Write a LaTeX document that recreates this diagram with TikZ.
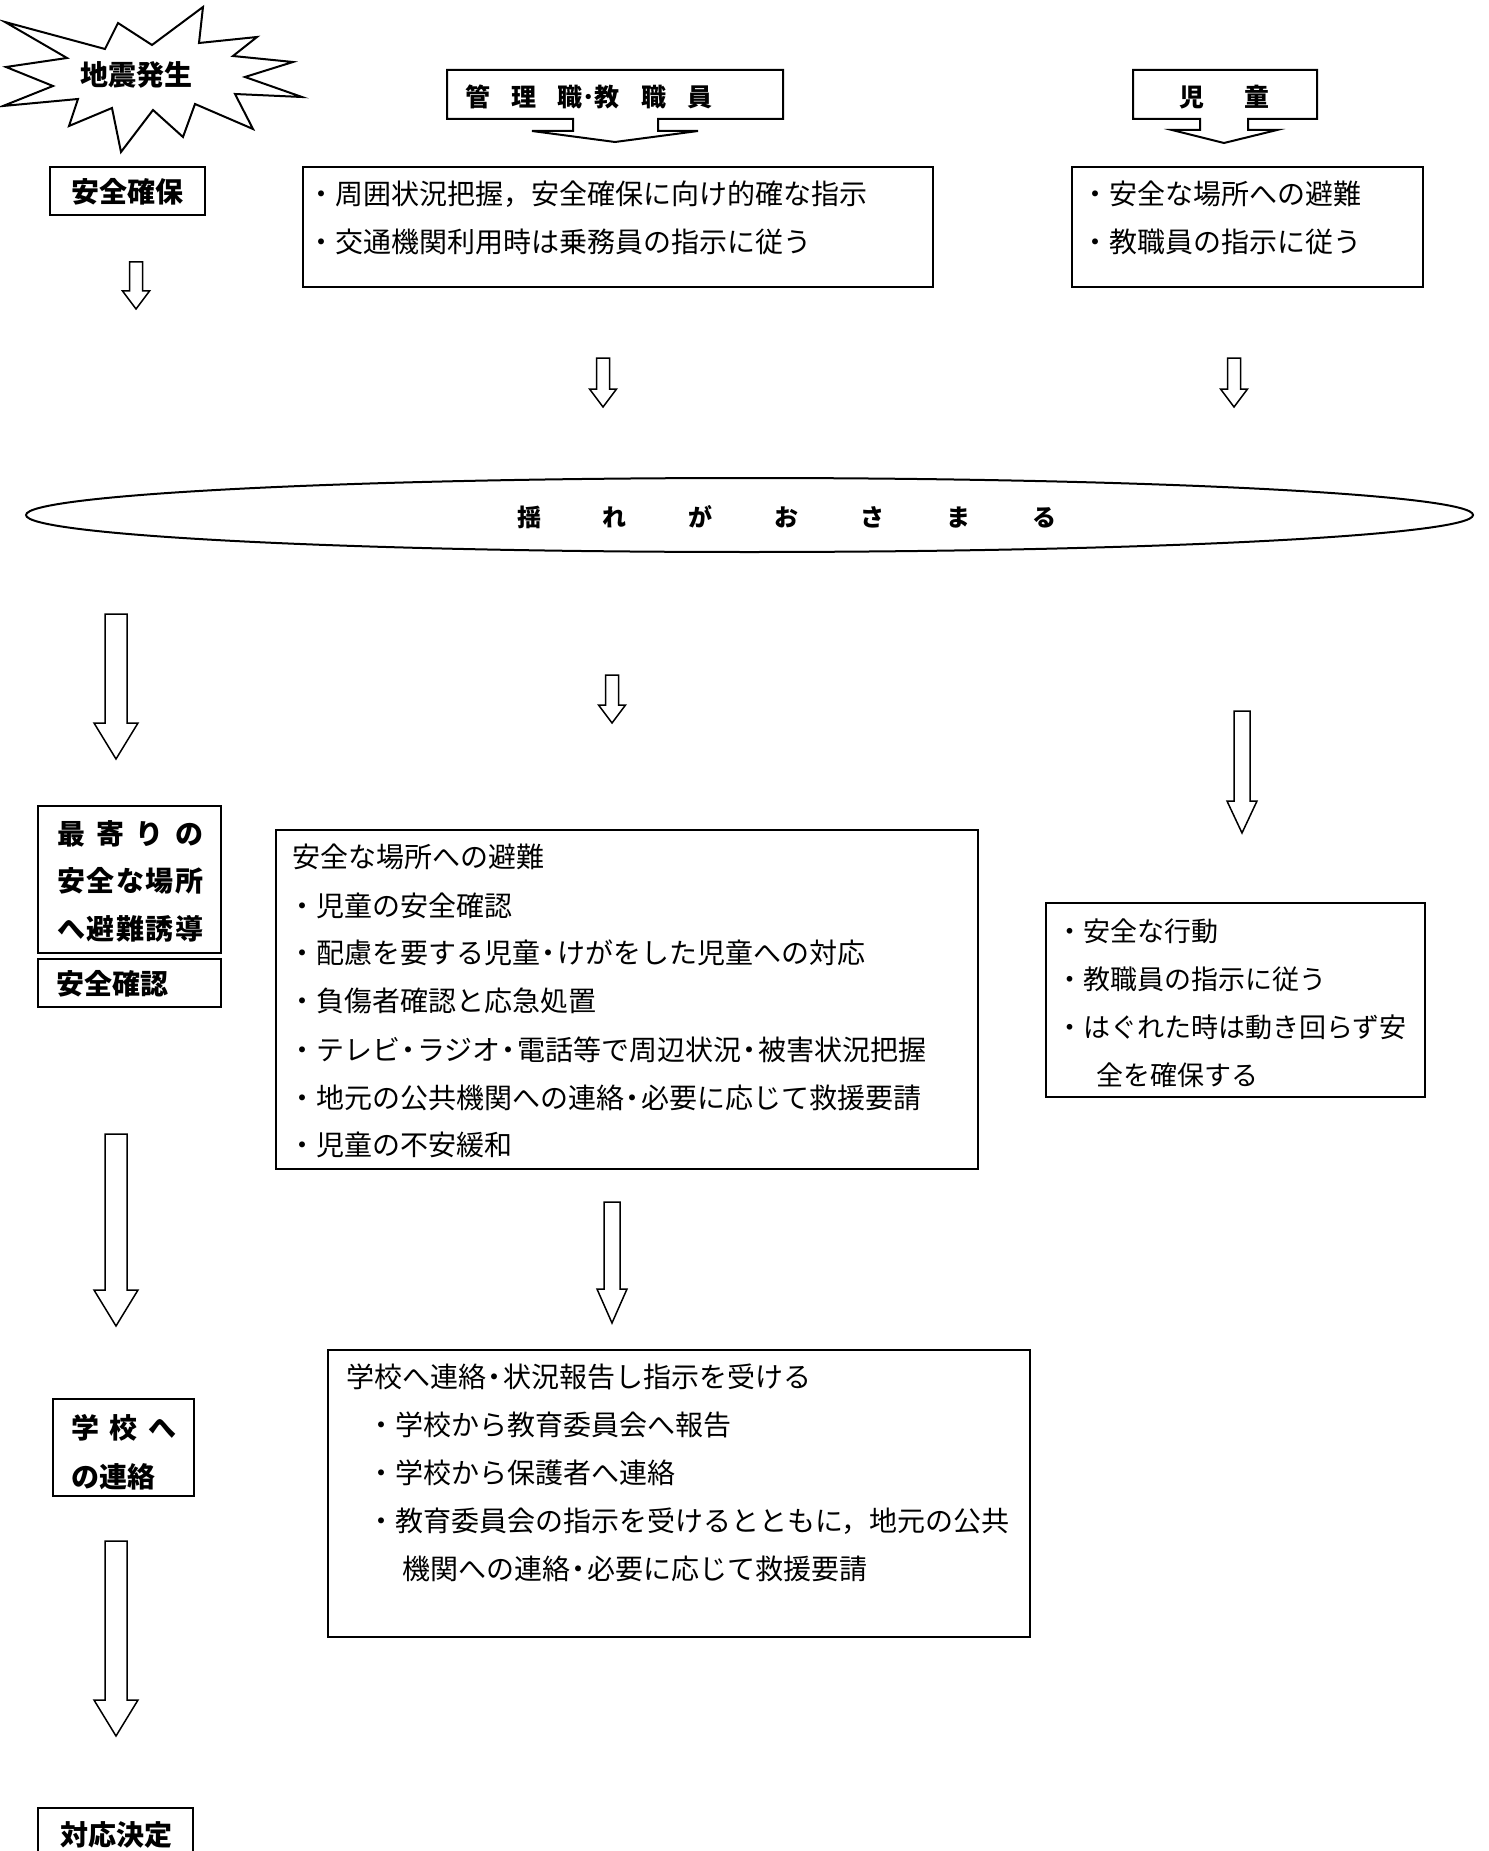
\documentclass[tikz,border=0pt]{standalone}
\usepackage{fontspec}
\setmainfont{Noto Sans CJK JP}
\usetikzlibrary{shapes.geometric}
\newcommand\blockarrow[6]{\draw[blk] ({#1-#4},#2) -- ({#1+#4},#2) -- ({#1+#4},{#3-#6}) -- ({#1+#5},{#3-#6}) -- (#1,#3) -- ({#1-#5},{#3-#6}) -- ({#1-#4},{#3-#6}) -- cycle;}
\newcommand\dt{\makebox[0.6em]{・}}
\begin{document}
\begin{tikzpicture}[x=1pt,y=-1pt,
  frame/.style={draw, line width=2pt, inner sep=0pt},
  body/.style={inner sep=0pt, anchor=west, yshift=-3.5pt, text height=1.65em, text depth=0.1em, font=\fontsize{28pt}{28pt}\selectfont},
  bodys/.style={body, font=\fontsize{27pt}{27pt}\selectfont},
  title/.style={inner sep=0pt, yshift=-3.5pt, text height=1.65em, text depth=0.1em, font=\fontsize{28pt}{28pt}\selectfont\bfseries},
  blk/.style={draw, line width=1.5pt, line join=miter}]
\clip (0,0) rectangle (1488,1851);
\fill[white] (0,0) rectangle (1488,1851);

% starburst
\draw[line width=2pt, line join=miter] (5,22) -- (105,49) -- (118,23) -- (152,45) -- (203,7) -- (199,43) -- (257,37) -- (233,56) -- (293,62) -- (245,77) -- (302,97) -- (235,94) -- (253,129) -- (195,104) -- (183,137) -- (153,110) -- (121,152) -- (112,108) -- (69,126) -- (78,99) -- (3,106) -- (53,86) -- (6,67) -- (67,58) -- cycle;
\node[title] (jishin) at (136,74) {地震発生};

% top-left
\node[frame, minimum width=155, minimum height=48] (anzenbox) at (127.5,191) {};
\node[title] (anzen) at (127.5,191) {安全確保};

% callouts
\draw[line width=2pt, line join=miter] (447,70) -- (783,70) -- (783,119) -- (658,119) -- (658,131) -- (698,131) -- (615,142) -- (532,131) -- (573,131) -- (573,119) -- (447,119) -- cycle;
\node[title, anchor=west, font=\fontsize{25pt}{25pt}\selectfont\bfseries] (kanri) at (465,95) {\makebox[247pt][s]{管\hfill 理\hfill 職･教\hfill 職\hfill 員}};
\draw[line width=2pt, line join=miter] (1133,70) -- (1317,70) -- (1317,119) -- (1248,119) -- (1248,130) -- (1277,130) -- (1224,143) -- (1172,130) -- (1200,130) -- (1200,119) -- (1133,119) -- cycle;
\node[title, font=\fontsize{25pt}{25pt}\selectfont\bfseries] (jido) at (1224,95) {\makebox[90pt][s]{児\hfill 童}};

% box A
\node[frame, minimum width=630, minimum height=120] (boxA) at (618,227) {};
\node[body] (a1) at (307,193) {・周囲状況把握，安全確保に向け的確な指示};
\node[body] (a2) at (307,241) {・交通機関利用時は乗務員の指示に従う};

% box B
\node[frame, minimum width=351, minimum height=120] (boxB) at (1247.5,227) {};
\node[body] (b1) at (1081,193) {・安全な場所への避難};
\node[body] (b2) at (1081,241) {・教職員の指示に従う};

% small arrows
\blockarrow{136}{262}{309}{6.5}{13.5}{18}
\blockarrow{603}{358}{407}{6.5}{13.5}{18}
\blockarrow{1234}{358}{407}{6.5}{13.5}{18}

% ellipse
\node[draw, ellipse, line width=2pt, inner sep=0pt, minimum width=1447, minimum height=74] (yure) at (749.5,515) {};
\node[title, font=\fontsize{24pt}{24pt}\selectfont\bfseries] (yuretxt) at (786.5,515) {\makebox[539pt][s]{揺\hfill れ\hfill が\hfill お\hfill さ\hfill ま\hfill る}};

% arrows row 2
\blockarrow{116}{614}{759}{11}{22}{36}
\blockarrow{612}{675}{723}{6.5}{13.5}{18}
\blockarrow{1242}{711}{833}{8}{15}{32}

% left boxes
\node[frame, minimum width=183, minimum height=147] (moyoribox) at (129.5,879.5) {};
\node[title, anchor=west] (m1) at (57,833) {\makebox[146pt][s]{最\hfill 寄\hfill り\hfill の}};
\node[title, anchor=west] (m2) at (57,880) {\makebox[146pt][s]{安\hfill 全\hfill な\hfill 場\hfill 所}};
\node[title, anchor=west] (m3) at (57,928) {\makebox[146pt][s]{へ\hfill 避\hfill 難\hfill 誘\hfill 導}};
\node[frame, minimum width=183, minimum height=48] (kakuninbox) at (129.5,983) {};
\node[title, anchor=west] (kakunin) at (56,983) {安全確認};

% box C
\node[frame, minimum width=702, minimum height=339] (boxC) at (627,999.5) {};
\node[body] (c0) at (292,856) {安全な場所への避難};
\node[body] (c1) at (288,905) {・児童の安全確認};
\node[body] (c2) at (288,952) {・配慮を要する児童\dt けがをした児童への対応};
\node[body] (c3) at (288,1000) {・負傷者確認と応急処置};
\node[body] (c4) at (288,1049) {・テレビ\dt ラジオ\dt 電話等で周辺状況\dt 被害状況把握};
\node[body] (c5) at (288,1097) {・地元の公共機関への連絡\dt 必要に応じて救援要請};
\node[body] (c6) at (288,1144) {・児童の不安緩和};

% box D
\node[frame, minimum width=379, minimum height=194] (boxD) at (1235.5,1000) {};
\node[bodys] (d1) at (1056,930) {・安全な行動};
\node[bodys] (d2) at (1056,978) {・教職員の指示に従う};
\node[bodys] (d3) at (1056,1026) {・はぐれた時は動き回らず安};
\node[bodys] (d4) at (1096,1074) {全を確保する};

% arrows row 3
\blockarrow{116}{1134}{1326}{11}{22}{36}
\blockarrow{612}{1202}{1323}{8}{15}{34}

% gakko box
\node[frame, minimum width=141, minimum height=97] (gakkobox) at (123.5,1447.5) {};
\node[title, anchor=west] (g1) at (71,1427) {\makebox[105pt][s]{学\hfill 校\hfill へ}};
\node[title, anchor=west] (g2) at (71,1476) {の連絡};

% box E
\node[frame, minimum width=702, minimum height=287] (boxE) at (679,1493.5) {};
\node[body] (e1) at (346,1376) {学校へ連絡\dt 状況報告し指示を受ける};
\node[body] (e2) at (367,1424) {・学校から教育委員会へ報告};
\node[body] (e3) at (367,1472) {・学校から保護者へ連絡};
\node[body] (e4) at (367,1520) {・教育委員会の指示を受けるとともに，地元の公共};
\node[body] (e5) at (402,1568) {機関への連絡\dt 必要に応じて救援要請};

% last arrow and box
\blockarrow{116}{1541}{1736}{11}{22}{36}
\node[frame, minimum width=155, minimum height=72] (taiobox) at (115.5,1844) {};
\node[title] (taio) at (116,1834) {対応決定};
\end{tikzpicture}
\end{document}
